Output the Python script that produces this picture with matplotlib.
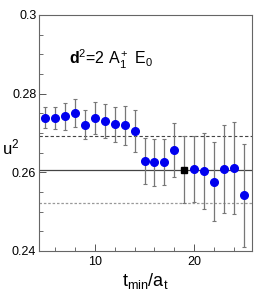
import numpy as np
import matplotlib
matplotlib.use("Agg")
import matplotlib.pyplot as plt
from matplotlib.ticker import MultipleLocator

plt.rcParams['font.family'] = ['Liberation Sans', 'DejaVu Sans']
plt.rcParams['mathtext.fontset'] = 'custom'
plt.rcParams['mathtext.rm'] = 'Liberation Sans'
plt.rcParams['mathtext.it'] = 'Liberation Sans:italic'
plt.rcParams['mathtext.bf'] = 'Liberation Sans:bold'

# Data
t_min = [5, 6, 7, 8, 9, 10, 11, 12, 13, 14, 15, 16, 17, 18, 19, 20, 21, 22, 23, 24, 25]
u2 = [0.2739, 0.2738, 0.2742, 0.2750, 0.2721, 0.2738, 0.2731, 0.2722, 0.2719, 0.2705,
      0.2628, 0.2625, 0.2626, 0.2656, 0.2607, 0.2608, 0.2603, 0.2576, 0.2608, 0.2611, 0.2541]
u2_err = [0.0026, 0.0028, 0.0034, 0.0035, 0.0037, 0.0040, 0.0043, 0.0045, 0.0050, 0.0054,
          0.0058, 0.0059, 0.0059, 0.0069, 0.0084, 0.0083, 0.0097, 0.0100, 0.0112, 0.0117, 0.0130]
chosen = 19
fit_value = 0.2607
fit_err = 0.0084

fig = plt.figure(figsize=(2.66, 2.97), dpi=100)
ax = fig.add_axes([0.147, 0.155, 0.80, 0.795])

t = np.array(t_min)
y = np.array(u2)
e = np.array(u2_err)
sel = t == chosen

ax.axhline(fit_value, color='#444444', lw=0.9, zorder=1)
ax.axhline(fit_value + fit_err, color='#444444', lw=0.8, ls=(0, (3, 2)), zorder=1)
ax.axhline(fit_value - fit_err, color='#999999', lw=0.9, ls=(0, (2, 1.5)), zorder=1)

ax.errorbar(t, y, yerr=e, fmt='none', ecolor='#777777', elinewidth=0.9,
            capsize=1.5, capthick=0.8, zorder=2)
ax.plot(t[~sel], y[~sel], 'o', color='#0000ee', markersize=5.5, zorder=3)
ax.plot(t[sel], y[sel], 's', color='black', markersize=4.5, zorder=3)

ax.set_xlim(4.4, 25.8)
ax.set_ylim(0.24, 0.30)
ax.xaxis.set_major_locator(MultipleLocator(10))
ax.xaxis.set_minor_locator(MultipleLocator(2))
ax.yaxis.set_minor_locator(MultipleLocator(0.005))
ax.set_yticks([0.24, 0.26, 0.28, 0.30])
ax.set_yticklabels(['0.24', '0.26', '0.28', '0.3'])
ax.tick_params(which='both', direction='in', top=False, right=False, labelsize=9,
               color='#555555')
ax.tick_params(which='major', length=5, width=0.7)
ax.tick_params(which='minor', length=3, width=0.6)
ax.tick_params(axis='y', pad=2)
for s in ax.spines.values():
    s.set_color('#666666')
    s.set_linewidth(0.8)

ax.text(0.14, 0.81, r"$\mathbf{d}^2$=2 A$_1^+$ E$_0$", transform=ax.transAxes,
        fontsize=11.5, ha='left', va='center')

ax.set_xlabel(r"t$_{\mathrm{min}}$/a$_\mathrm{t}$", fontsize=13, labelpad=2)
ax.set_ylabel(r"u$^2$", fontsize=12, rotation=0, ha='center', va='center')
ax.yaxis.set_label_coords(-0.135, 0.44)

fig.savefig("out.png", dpi=100)
